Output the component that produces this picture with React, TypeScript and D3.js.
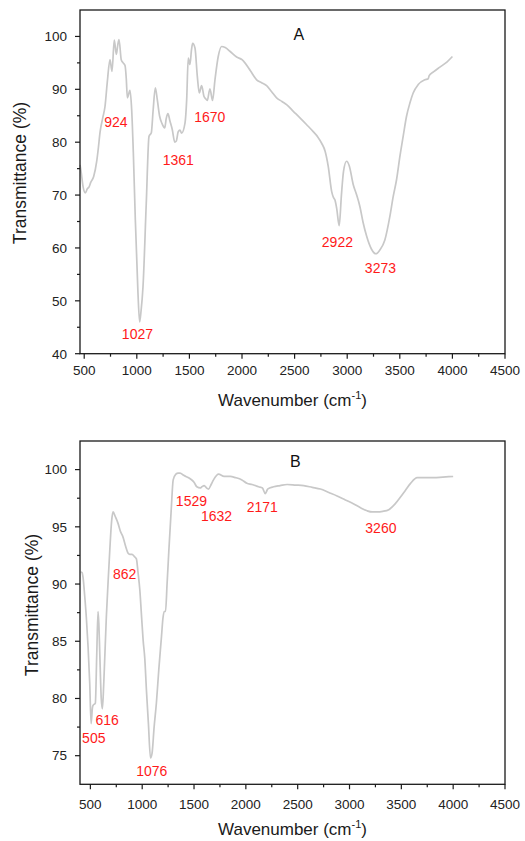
import React from "react";
import * as d3 from "d3";

// ---------- Panel A data ----------
const waveA = [460, 470, 490, 510, 530, 545, 562, 590, 619, 635, 650, 675, 698, 720, 745, 764, 786, 805, 820, 831, 852, 870, 888, 900, 910, 935, 951, 967, 986, 1011, 1027, 1040, 1059, 1090, 1116, 1138, 1155, 1176, 1195, 1217, 1240, 1265, 1280, 1296, 1315, 1337, 1361, 1375, 1394, 1410, 1426, 1458, 1474, 1489, 1505, 1520, 1531, 1553, 1575, 1594, 1616, 1638, 1655, 1670, 1695, 1720, 1743, 1774, 1806, 1840, 1885, 1949, 2000, 2028, 2080, 2139, 2190, 2234, 2280, 2329, 2380, 2424, 2490, 2551, 2615, 2677, 2720, 2757, 2790, 2820, 2852, 2870, 2883, 2900, 2924, 2945, 2965, 2994, 3020, 3057, 3090, 3121, 3150, 3185, 3230, 3273, 3310, 3358, 3406, 3437, 3469, 3501, 3532, 3564, 3596, 3627, 3675, 3738, 3770, 3779, 3820, 3881, 3950, 4000];
const transA = [75.7, 74.5, 71.5, 70.4, 71.2, 71.5, 72.4, 73.5, 76.4, 79, 81.8, 84.5, 86.8, 91.5, 95.6, 93.4, 99.3, 96.6, 98.5, 99.4, 95.6, 95, 94.5, 92, 88.4, 89.8, 86.2, 78, 65.3, 51.5, 46, 48, 52.7, 68.5, 81.1, 81.8, 86, 90.3, 88, 84.9, 83.5, 82.7, 84.5, 85.4, 84, 82.4, 80, 80.2, 82, 82.3, 81.7, 83.6, 88, 95.9, 94.7, 97.5, 98.7, 97.8, 92.5, 89.3, 90.7, 88.7, 88.2, 87.9, 90.1, 87.9, 91.8, 96.2, 98.1, 97.9, 97.2, 96.1, 95.6, 95, 93.5, 91.8, 91.2, 90.7, 89.6, 88.4, 87.7, 87.1, 85.8, 84.6, 83.3, 82, 81, 79.8, 78.3, 75.4, 70.7, 69.5, 69.1, 67.5, 64.2, 70, 74.5, 76.4, 75.5, 72, 70, 67.8, 64.9, 62.2, 59.8, 58.9, 59.6, 61.5, 66, 69.7, 72.9, 77.3, 81.1, 84.9, 87.4, 89.3, 90.9, 91.8, 92.0, 92.6, 93.3, 94.2, 95.2, 96.2];

// ---------- Panel B data ----------
const waveB = [407, 420, 429, 445, 461, 478, 494, 507, 520, 526, 548, 562, 574, 582, 590, 605, 616, 630, 654, 670, 687, 705, 719, 740, 767, 790, 815, 840, 864, 880, 902, 925, 944, 960, 977, 995, 1009, 1025, 1041, 1060, 1080, 1095, 1115, 1137, 1160, 1186, 1200, 1212, 1225, 1240, 1257, 1280, 1299, 1325, 1347, 1366, 1400, 1463, 1500, 1527, 1560, 1576, 1598, 1620, 1640, 1665, 1688, 1737, 1790, 1849, 1900, 1962, 2010, 2060, 2123, 2160, 2187, 2200, 2210, 2268, 2330, 2397, 2480, 2558, 2640, 2719, 2800, 2880, 2960, 3041, 3110, 3170, 3220, 3267, 3320, 3379, 3440, 3492, 3540, 3589, 3653, 3700, 3814, 3900, 4000];
const transB = [91.05, 91, 90.6, 89, 87.1, 84.5, 81.3, 77.8, 79.2, 79.4, 79.6, 84, 87.6, 86.5, 84.2, 80, 79.1, 81.5, 87.1, 90, 92.9, 95.5, 96.3, 95.9, 95.3, 94.6, 94.1, 93.3, 92.7, 92.6, 92.6, 92.4, 92.2, 91, 89.5, 87, 85.1, 83.5, 80.7, 77.8, 74.8, 75.2, 77.5, 79.6, 82.5, 85.4, 87, 87.6, 87.6, 90, 92.9, 96.5, 99.1, 99.6, 99.7, 99.7, 99.5, 99.2, 98.9, 98.5, 98.4, 98.5, 98.6, 98.4, 98.3, 98.7, 99.1, 99.6, 99.4, 99.4, 99.3, 99.1, 98.8, 98.7, 98.5, 98.4, 97.9, 98.1, 98.3, 98.5, 98.6, 98.7, 98.65, 98.6, 98.45, 98.3, 98.0, 97.7, 97.35, 97.0, 96.65, 96.4, 96.3, 96.3, 96.35, 96.5, 97.0, 97.6, 98.2, 98.8, 99.3, 99.3, 99.3, 99.35, 99.4];

// ---------- Peak labels (text, wavenumber anchor, transmittance anchor) ----------
const peakTextA = ["924", "1361", "1670", "1027", "2922", "3273"];
const peakXA = [802, 1394, 1694, 1006, 2907, 3316];
const peakYA = [82.9, 75.6, 83.9, 42.7, 60.1, 55.2];

const peakTextB = ["1529", "1632", "2171", "3260", "862", "616", "505", "1076"];
const peakXB = [1475, 1717, 2158, 3303, 830, 661, 533, 1093];
const peakYB = [96.8, 95.5, 96.3, 94.5, 90.4, 77.7, 76.1, 73.2];

// ---------- Axis ticks ----------
const xTicks = [500, 1000, 1500, 2000, 2500, 3000, 3500, 4000, 4500];
const xMinor = [750, 1250, 1750, 2250, 2750, 3250, 3750, 4250];
const yTicksA = [40, 50, 60, 70, 80, 90, 100];
const yMinorA = [45, 55, 65, 75, 85, 95];
const yTicksB = [75, 80, 85, 90, 95, 100];
const yMinorB = [77.5, 82.5, 87.5, 92.5, 97.5];

const FONT = "Arial, 'Liberation Sans', Helvetica, sans-serif";

type PanelProps = {
  xDomain: [number, number];
  yDomain: [number, number];
  top: number;
  bottom: number;
  wave: number[];
  trans: number[];
  yTicks: number[];
  yMinor: number[];
  peakText: string[];
  peakX: number[];
  peakY: number[];
  letter: string;
  letterX: number;
  letterY: number;
  xLabelDy: number;
  xTitleDy: number;
  yTitleX: number;
  yTitleY: number;
};

function Panel(p: PanelProps) {
  const left = 80;
  const right = 505;
  const x = d3.scaleLinear().domain(p.xDomain).range([left, right]);
  const y = d3.scaleLinear().domain(p.yDomain).range([p.bottom, p.top]);
  const data = p.wave.map((w, i) => [w, p.trans[i]] as [number, number]);
  const line = d3
    .line<[number, number]>()
    .x((d) => x(d[0]))
    .y((d) => y(d[1]))
    .curve(d3.curveMonotoneX);
  const axisColor = "#1a1a1a";
  return (
    <g>
      <path d={line(data) || ""} fill="none" stroke="#c8c8c8" strokeWidth={1.7} strokeLinejoin="round" />
      <rect x={left} y={p.top} width={right - left} height={p.bottom - p.top} fill="none" stroke={axisColor} strokeWidth={1.3} />
      {xTicks.map((t) => (
        <g key={"xt" + t}>
          <line x1={x(t)} x2={x(t)} y1={p.bottom} y2={p.bottom + 5} stroke={axisColor} strokeWidth={1.2} />
          <text x={x(t)} y={p.bottom + p.xLabelDy} textAnchor="middle" fontSize={13.5} fontFamily={FONT} fill="#222">
            {t}
          </text>
        </g>
      ))}
      {xMinor.map((t) => (
        <line key={"xm" + t} x1={x(t)} x2={x(t)} y1={p.bottom} y2={p.bottom + 3} stroke={axisColor} strokeWidth={1.2} />
      ))}
      {p.yTicks.map((t) => (
        <g key={"yt" + t}>
          <line x1={left - 5} x2={left} y1={y(t)} y2={y(t)} stroke={axisColor} strokeWidth={1.2} />
          <text x={left - 13} y={y(t) + 4.8} textAnchor="end" fontSize={13.5} fontFamily={FONT} fill="#222">
            {t}
          </text>
        </g>
      ))}
      {p.yMinor.map((t) => (
        <line key={"ym" + t} x1={left - 3} x2={left} y1={y(t)} y2={y(t)} stroke={axisColor} strokeWidth={1.2} />
      ))}
      <text x={x(p.letterX)} y={y(p.letterY)} textAnchor="middle" fontSize={16} fontFamily={FONT} fill="#111">
        {p.letter}
      </text>
      {p.peakText.map((t, i) => (
        <text key={"pk" + i} x={x(p.peakX[i])} y={y(p.peakY[i])} textAnchor="middle" fontSize={14} fontFamily={FONT} fill="#ff1a1a">
          {t}
        </text>
      ))}
      <text x={(left + right) / 2} y={p.bottom + p.xTitleDy} textAnchor="middle" fontSize={17} fontFamily={FONT} fill="#1a1a1a">
        Wavenumber (cm
        <tspan fontSize={11} dy={-7}>-1</tspan>
        <tspan dy={7}>)</tspan>
      </text>
      <text
        transform={`translate(${p.yTitleX},${p.yTitleY}) rotate(-90)`}
        textAnchor="middle"
        fontSize={17.5}
        fontFamily={FONT}
        fill="#1a1a1a"
        dy={6}
      >
        Transmittance (%)
      </text>
    </g>
  );
}

export default function App() {
  return (
    <svg
      width={525}
      height={841}
      viewBox="0 0 525 841"
      style={{ position: "absolute", left: 0, top: 0, background: "#fff" }}
    >
      <rect x={0} y={0} width={525} height={841} fill="#fff" />
      <Panel
        xDomain={[460, 4500]}
        yDomain={[40, 105]}
        top={10}
        bottom={353.7}
        wave={waveA}
        trans={transA}
        yTicks={yTicksA}
        yMinor={yMinorA}
        peakText={peakTextA}
        peakX={peakXA}
        peakY={peakYA}
        letter="A"
        letterX={2541}
        letterY={99.4}
        xLabelDy={21}
        xTitleDy={52.5}
        yTitleX={20}
        yTitleY={173}
      />
      <Panel
        xDomain={[400, 4500]}
        yDomain={[72.5, 102.5]}
        top={441}
        bottom={784.3}
        wave={waveB}
        trans={transB}
        yTicks={yTicksB}
        yMinor={yMinorB}
        peakText={peakTextB}
        peakX={peakXB}
        peakY={peakYB}
        letter="B"
        letterX={2478}
        letterY={100.2}
        xLabelDy={24.5}
        xTitleDy={51}
        yTitleX={32}
        yTitleY={605}
      />
    </svg>
  );
}
